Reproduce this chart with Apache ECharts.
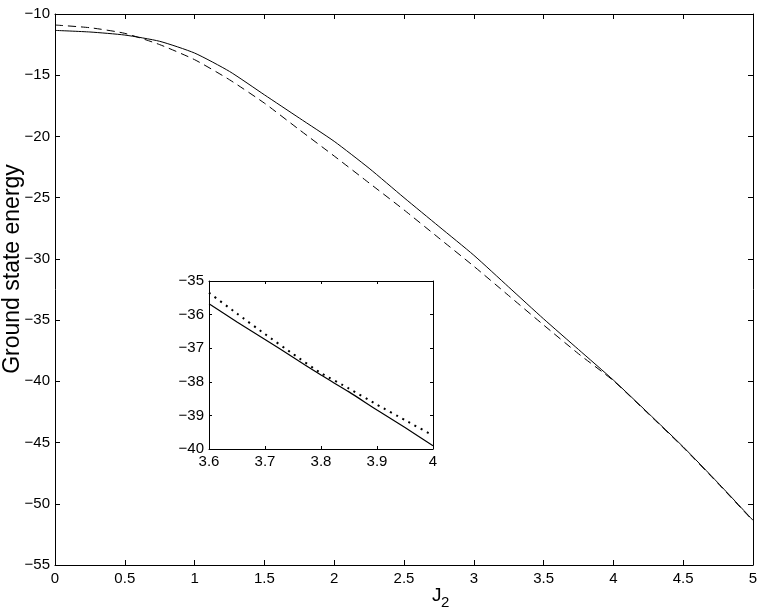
<!DOCTYPE html>
<html>
<head>
<meta charset="utf-8">
<script src="https://cdn.jsdelivr.net/npm/echarts@6/dist/echarts.min.js"></script>
<style>
html,body{margin:0;padding:0;background:#fff;}
#c{width:763px;height:611px;}
</style>
</head>
<body>
<div id="c"></div>
<script>
// Main plot data
const mainX = [0, 0.25, 0.5, 0.75, 1.0, 1.25, 1.5, 1.75, 2.0, 2.25, 2.5, 2.75, 3.0, 3.25, 3.5, 3.75, 4.0, 4.25, 4.5, 4.75, 5.0];
const solidE = [-11.34, -11.47, -11.72, -12.23, -13.19, -14.69, -16.6, -18.5, -20.4, -22.6, -25.0, -27.35, -29.7, -32.3, -34.9, -37.4, -39.9, -42.6, -45.35, -48.3, -51.35];
const dashedE = [-10.9, -11.12, -11.58, -12.5, -13.73, -15.37, -17.28, -19.45, -21.6, -23.8, -26.0, -28.3, -30.6, -33.0, -35.4, -37.75, -39.95, -42.65, -45.4, -48.35, -51.4];

// Inset data
const insetX = [3.6, 3.65, 3.7, 3.75, 3.8, 3.85, 3.9, 3.95, 4.0];
const insetSolid = [-35.68, -36.22, -36.74, -37.27, -37.8, -38.3, -38.84, -39.36, -39.9];
const insetDotted = [-35.35, -35.97, -36.58, -37.17, -37.74, -38.2, -38.68, -39.14, -39.6];

// Axis ranges / ticks
const mainXRange = [0, 5], mainXStep = 0.5;
const mainYRange = [-55, -10], mainYStep = 5;
const insetXRange = [3.6, 4], insetXStep = 0.1;
const insetYRange = [-40, -35], insetYStep = 1;

// Titles
const yTitle = 'Ground state energy';
const xTitleMain = 'J', xTitleSub = '2';

const FONT = '"Liberation Sans", Arial, Helvetica, sans-serif';
const zip = (xs, ys) => xs.map((x, i) => [x, ys[i]]);
const fmt = v => (Math.round(v * 1000) / 1000).toString().replace('-', '\u2212');

function axis(grid, pos, range, step, opts) {
  return {
    type: 'value', gridIndex: grid, position: pos,
    min: range[0], max: range[1], interval: step,
    axisLine: { show: true, onZero: false, lineStyle: { color: '#000', width: 1 } },
    axisTick: { show: true, inside: true, length: opts.tick, lineStyle: { color: '#000', width: 1 } },
    axisLabel: { show: !!opts.label, color: '#000', fontFamily: FONT, fontSize: 15, margin: opts.margin || 5, formatter: fmt,
      showMinLabel: true, showMaxLabel: true },
    splitLine: { show: false }
  };
}

const chart = echarts.init(document.getElementById('c'), null, { renderer: 'canvas' });
chart.setOption({
  backgroundColor: '#fff',
  animation: false,
  grid: [
    { left: 55, top: 14, width: 698, height: 551, containLabel: false, outerBoundsMode: 'none' },
    { left: 209, top: 281, width: 224, height: 168, containLabel: false, outerBoundsMode: 'none',
      show: true, backgroundColor: '#fff', borderWidth: 0 }
  ],
  xAxis: [
    axis(0, 'bottom', mainXRange, mainXStep, { label: true, tick: 5, margin: 6 }),
    axis(0, 'top', mainXRange, mainXStep, { tick: 5 }),
    axis(1, 'bottom', insetXRange, insetXStep, { label: true, tick: 3, margin: 5 }),
    axis(1, 'top', insetXRange, insetXStep, { tick: 3 })
  ],
  yAxis: [
    axis(0, 'left', mainYRange, mainYStep, { label: true, tick: 5, margin: 5 }),
    axis(0, 'right', mainYRange, mainYStep, { tick: 5 }),
    axis(1, 'left', insetYRange, insetYStep, { label: true, tick: 3, margin: 5 }),
    axis(1, 'right', insetYRange, insetYStep, { tick: 3 })
  ],
  graphic: [
    { type: 'text', x: 13, y: 269, rotation: Math.PI / 2,
      style: { text: yTitle, fill: '#000', font: '23px ' + FONT, textAlign: 'center', textVerticalAlign: 'middle' } },
    { type: 'text', x: 432, y: 605,
      style: { text: xTitleMain, fill: '#000', font: '19px ' + FONT, textAlign: 'left', textVerticalAlign: 'bottom' } },
    { type: 'text', x: 441, y: 610,
      style: { text: xTitleSub, fill: '#000', font: '15px ' + FONT, textAlign: 'left', textVerticalAlign: 'bottom' } }
  ],
  series: [
    { type: 'line', xAxisIndex: 0, yAxisIndex: 0, data: zip(mainX, solidE), showSymbol: false, smooth: 0.2,
      lineStyle: { color: '#000', width: 1 }, z: 3 },
    { type: 'line', xAxisIndex: 0, yAxisIndex: 0, data: zip(mainX, dashedE), showSymbol: false, smooth: 0.2,
      lineStyle: { color: '#000', width: 1, type: [8, 5] }, z: 3 },
    { type: 'line', xAxisIndex: 2, yAxisIndex: 2, data: zip(insetX, insetSolid), showSymbol: false, smooth: 0.2,
      lineStyle: { color: '#000', width: 1.2 }, z: 5 },
    { type: 'line', xAxisIndex: 2, yAxisIndex: 2, data: zip(insetX, insetDotted), showSymbol: false, smooth: 0.2,
      lineStyle: { color: '#000', width: 2, type: [2, 5] }, z: 5 }
  ]
});
</script>
</body>
</html>
